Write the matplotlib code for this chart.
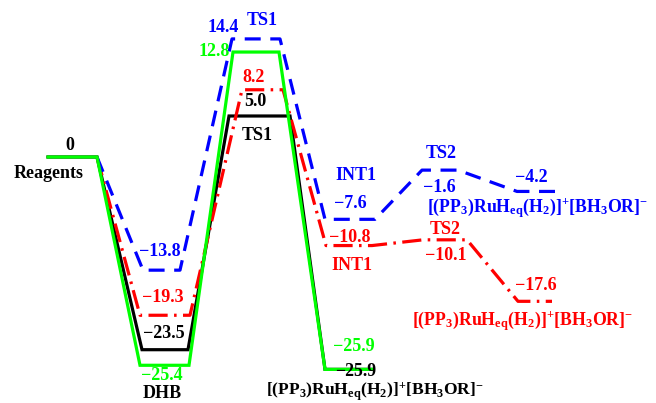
import matplotlib
matplotlib.use("Agg")
import matplotlib.pyplot as plt

# -------------------------
# DATA (kcal/mol)
# -------------------------
black_energy = [0.0, -23.5, 5.0, -25.9]
green_energy = [0.0, -25.4, 12.8, -25.9]
blue_energy = [0.0, -13.8, 14.4, -7.6, -1.6, -4.2]
red_energy = [0.0, -19.3, 8.2, -10.8, -10.1, -17.6]

state_names = ["Reagents", "DHB", "TS1", "INT1", "TS2"]
product_name = (r"$[(\mathrm{PP}_3)\mathrm{RuH}_{\mathrm{eq}}(\mathrm{H}_2)]^{+}"
                r"[\mathrm{BH}_3\mathrm{OR}]^{-}$")

# -------------------------
# LAYOUT (pixel x-extents of each level)
# -------------------------
Y0 = 157.0      # pixel row of E = 0
SCALE = 8.2     # pixels per kcal/mol
W, H = 656, 403

black_x = [(48, 97), (142, 188), (229, 290), (325, 373)]
green_x = [(48, 97), (140, 189), (233, 279), (325, 373)]
blue_x = [(97, 97), (143, 180), (232, 280), (325, 375), (422, 458), (517, 558)]
red_x = [(97, 97), (140, 190), (242, 283), (326, 372), (423, 467), (518, 552)]

BLUE = "#0000ff"
RED = "#ff0000"
GREEN = "#00ff00"
BLACK = "black"

plt.rcParams["font.family"] = ["Liberation Serif", "DejaVu Serif"]
plt.rcParams["font.weight"] = "bold"
plt.rcParams["mathtext.fontset"] = "custom"
plt.rcParams["mathtext.rm"] = "Liberation Serif:bold"
plt.rcParams["mathtext.it"] = "Liberation Serif:bold"
plt.rcParams["mathtext.bf"] = "Liberation Serif:bold"


def e_of(py):
    return (Y0 - py) / SCALE


def path(spans, energies):
    xs, ys = [], []
    for (x0, x1), e in zip(spans, energies):
        xs += [x0, x1]
        ys += [e, e]
    return xs, ys


def fmt(e):
    if e == 0:
        return "0"
    return f"{e:.1f}".replace("-", "\u2212")


fig = plt.figure(figsize=(W / 100, H / 100), dpi=100)
ax = fig.add_axes([0, 0, 1, 1])
ax.set_xlim(0, W)
ax.set_ylim(e_of(H), e_of(0))
ax.axis("off")

lw = 2.3
xs, ys = path(black_x, black_energy)
ax.plot(xs, ys, color=BLACK, lw=lw, zorder=2, solid_joinstyle="miter")
xs, ys = path(red_x, red_energy)
ax.plot(xs, ys, color=RED, lw=lw, zorder=3, linestyle=(0, (6, 2, 0.8, 2)))
xs, ys = path(blue_x, blue_energy)
ax.plot(xs, ys, color=BLUE, lw=lw, zorder=4, linestyle=(0, (5, 3)))
xs, ys = path(green_x, green_energy)
ax.plot(xs, ys, color=GREEN, lw=lw, zorder=5, solid_joinstyle="miter")

FS = 13


def label(x, py, s, color, fs=FS, va="center"):
    ax.text(x, e_of(py), s, color=color, fontsize=fs, fontweight="bold",
            ha="center", va=va, zorder=6)


# black series
label(70, 145, fmt(black_energy[0]), BLACK)
label(49, 173, state_names[0], BLACK)
label(164, 334, fmt(black_energy[1]), BLACK)
label(162, 394, state_names[1], BLACK)
label(255, 101, fmt(black_energy[2]), BLACK)
label(257, 135, state_names[2], BLACK)
label(356, 371, fmt(black_energy[3]), BLACK, fs=12.8)
label(375, 396, product_name, BLACK, fs=12.6, va="baseline")

# green series
label(162, 376, fmt(green_energy[1]), GREEN)
label(214, 52, fmt(green_energy[2]), GREEN)
label(354, 347, fmt(green_energy[3]), GREEN)

# blue series
label(160, 252, fmt(blue_energy[1]), BLUE)
label(223, 27, fmt(blue_energy[2]), BLUE)
label(262, 20, state_names[2], BLUE)
label(356, 176, state_names[3], BLUE)
label(350, 203, fmt(blue_energy[3]), BLUE)
label(441, 153, state_names[4], BLUE)
label(439, 187, fmt(blue_energy[4]), BLUE)
label(531, 178, fmt(blue_energy[5]), BLUE)
label(538, 212, product_name, BLUE, fs=12.8, va="baseline")

# red series
label(163, 298, fmt(red_energy[1]), RED)
label(254, 78, fmt(red_energy[2]), RED)
label(350, 237, fmt(red_energy[3]), RED)
label(352, 266, state_names[3], RED)
label(445, 229, state_names[4], RED)
label(446, 256, fmt(red_energy[4]), RED)
label(536, 285, fmt(red_energy[5]), RED)
label(523, 325, product_name, RED, fs=12.8, va="baseline")

fig.savefig("out.png", dpi=100)
